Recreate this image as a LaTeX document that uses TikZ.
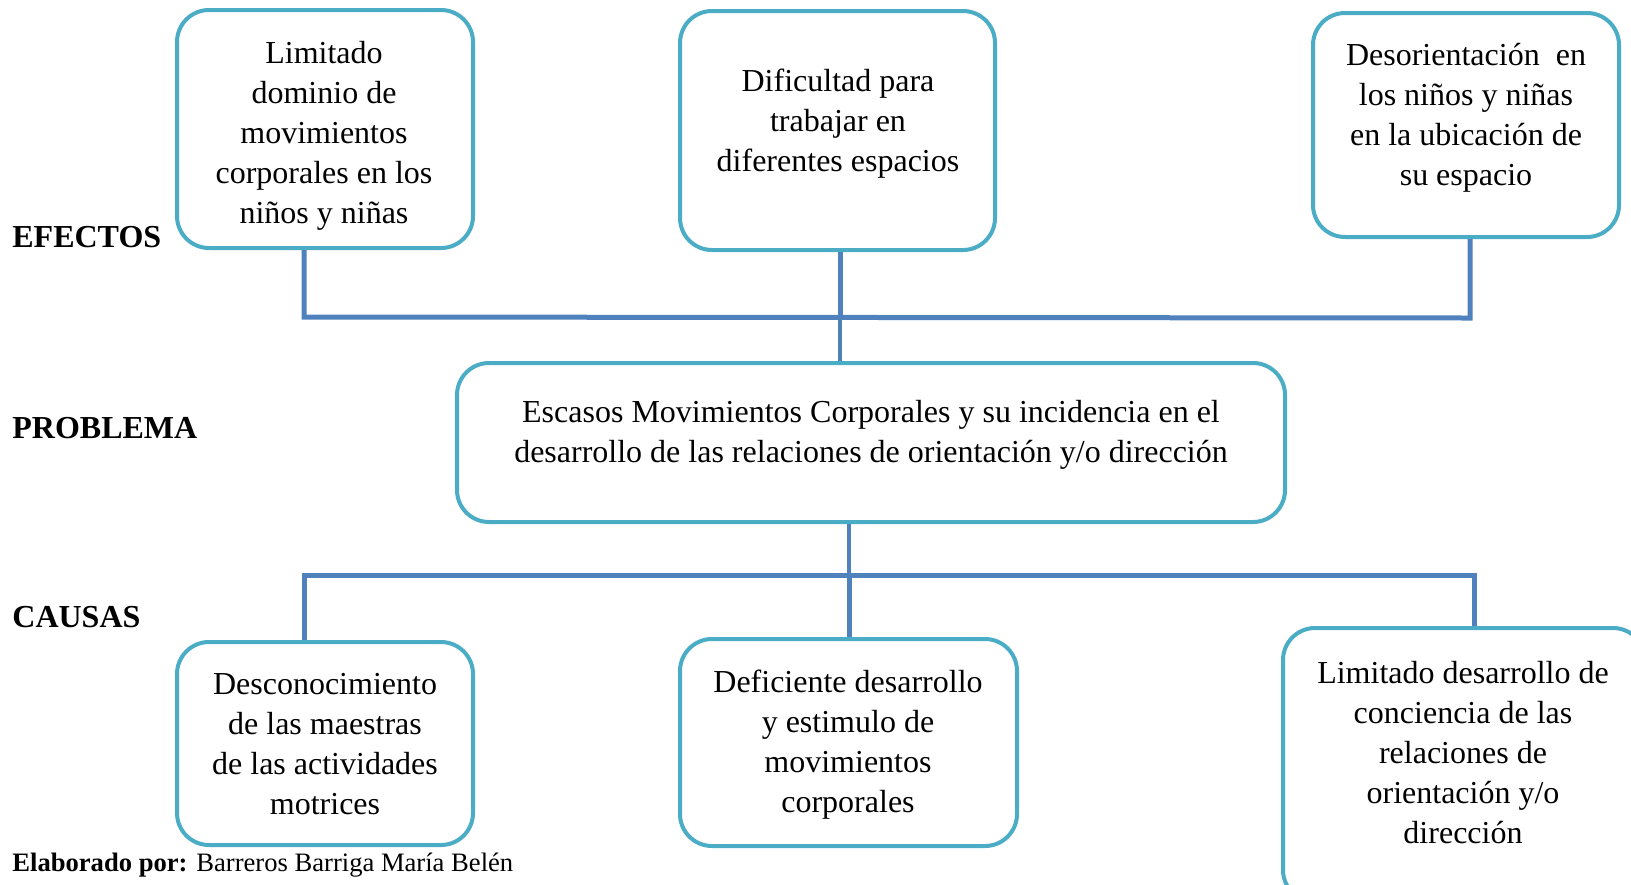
\documentclass[tikz,border=0pt]{standalone}
\usepackage{fontspec}
\setmainfont{Liberation Serif}
\usepackage{tikz}
\definecolor{bordecaja}{HTML}{4BACC6}
\definecolor{lineaazul}{HTML}{4F81BD}

\begin{document}
\begin{tikzpicture}[x=0.5pt, y=-0.5pt,
  caja/.style={draw=bordecaja, line width=2pt, rounded corners=16pt, fill=white, inner sep=0pt},
  texto/.style={align=center, font=\fontsize{16}{20}\selectfont, inner sep=0pt},
  rotulo/.style={anchor=west, font=\fontsize{16}{20}\selectfont\bfseries, inner sep=0pt},
  conector/.style={draw=lineaazul, line width=2.5pt},
  conectorfino/.style={draw=lineaazul, line width=1.6pt}]
  \useasboundingbox (0,0) rectangle (1631,884);
  \clip (0,0) rectangle (1631,884);
  \node[caja, minimum width=148pt, minimum height=119pt] (e1) at (325,129) {};
  \node[caja, minimum width=157.5pt, minimum height=119.5pt] (e2) at (837.5,130.5) {};
  \node[caja, minimum width=153pt, minimum height=112pt] (e3) at (1466,125) {};
  \node[caja, minimum width=414pt, minimum height=79.5pt] (p) at (871,442.5) {};
  \node[caja, minimum width=148pt, minimum height=101.5pt] (c1) at (325,743.5) {};
  \node[caja, minimum width=168.5pt, minimum height=103.5pt] (c2) at (848.5,742.5) {};
  \node[caja, minimum width=181pt, minimum height=137pt] (c3) at (1464,765) {};
  \node[texto] (e1t) at (324,136) {Limitado\\dominio de\\movimientos\\corporales en los\\niños y niñas};
  \node[texto] (e2t) at (838,124) {Dificultad para\\trabajar en\\diferentes espacios};
  \node[texto] (e3t) at (1466,118) {Desorientación\ \ en\\los niños y niñas\\en la ubicación de\\su espacio};
  \node[texto] (pt) at (871,435) {Escasos Movimientos Corporales y su incidencia en el\\desarrollo de las relaciones de orientación y/o dirección};
  \node[texto] (c1t) at (325,744) {Desconocimiento\\de las maestras\\de las actividades\\motrices};
  \node[texto] (c2t) at (848,745) {Deficiente desarrollo\\y estimulo de\\movimientos\\corporales};
  \node[texto] (c3t) at (1463,753) {Limitado desarrollo de\\conciencia de las\\relaciones de\\orientación y/o\\dirección};
  \node[rotulo] (ef) at (12,237) {EFECTOS};
  \node[rotulo] (pr) at (12,428) {PROBLEMA};
  \node[rotulo] (ca) at (12,617) {CAUSAS};
  \node[anchor=west, inner sep=0pt, font=\fontsize{13.3}{16}\selectfont] (el) at (12,865) {\textbf{Elaborado por:} Barreros Barriga María Belén};
  \coordinate (ta) at (304,317);
  \coordinate (tm) at (840,317);
  \coordinate (tb) at (1470,318);
  \coordinate (ba) at (304,575);
  \coordinate (bm) at (849,575);
  \coordinate (bb) at (1474,575);
  \draw[conector] (e1.south -| ta) -- (ta) -- (tb) -- (e3.south -| tb);
  \draw[conector] (e2.south -| tm) -- (tm);
  \draw[conectorfino] (tm) -- (p.north -| tm);
  \draw[conectorfino] (p.south -| bm) -- (bm);
  \draw[conector] (c1.north -| ba) -- (ba) -- (bb) -- (c3.north -| bb);
  \draw[conector] (bm) -- (c2.north -| bm);
\end{tikzpicture}
\end{document}
